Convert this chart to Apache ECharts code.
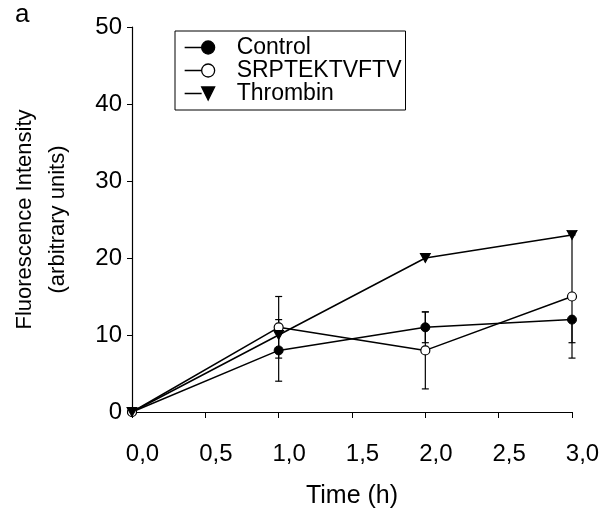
<!DOCTYPE html>
<html><head><meta charset="utf-8">
<script src="https://cdn.jsdelivr.net/npm/echarts@6/dist/echarts.min.js"></script>
<style>html,body{margin:0;padding:0;background:#fff}#c{width:603px;height:514px}</style>
</head><body><div id="c"></div>
<script>
var times = [0, 1, 2, 3];
var controlVals = [0, 8, 11, 12];
var controlLow  = [null, 4, 9, 7];
var controlHigh = [null, 12, 13, 12];
var srptVals = [0, 11, 8, 15];
var srptLow  = [null, 7, 3, 9];
var srptHigh = [null, 15, 13, 15];
var thrombinVals = [0, 10, 20, 23];
var thrombinLow  = [null, null, null, 15];
var thrombinHigh = [null, null, null, 23];
var xTicks = ['0,0','0,5','1,0','1,5','2,0','2,5','3,0'];
var yTicks = [0, 10, 20, 30, 40, 50];

function pairs(v){ return times.map(function(t,i){ return [t, v[i]]; }); }
function errData(lo,hi){ var out=[]; times.forEach(function(t,i){ if(lo[i]!=null) out.push([t, lo[i], hi[i]]); }); return out; }

var FONT = 'Liberation Sans, Arial, sans-serif';
function errSeries(lo,hi){
  return {
    type:'custom', silent:true, z:1,
    data: errData(lo,hi),
    encode:{x:0, y:[1,2]},
    renderItem:function(params, api){
      var x = api.value(0);
      var l = api.coord([x, api.value(1)]);
      var h = api.coord([x, api.value(2)]);
      var w = 3.5;
      var st = {stroke:'#000', lineWidth:1.2};
      return {type:'group', children:[
        {type:'line', shape:{x1:l[0], y1:l[1], x2:h[0], y2:h[1]}, style:st},
        {type:'line', shape:{x1:l[0]-w, y1:l[1], x2:l[0]+w, y2:l[1]}, style:st},
        {type:'line', shape:{x1:h[0]-w, y1:h[1], x2:h[0]+w, y2:h[1]}, style:st}
      ]};
    }
  };
}

var iconCircle = 'path://M0,6.5L17,6.5M17,6.5A6.5,6.5 0 1,1 30,6.5A6.5,6.5 0 1,1 17,6.5Z';
var iconTri = 'path://M0,6.5L17,6.5M17,0L30,0L23.5,13Z';

var chart = echarts.init(document.getElementById('c'), null, {renderer:'canvas'});
chart.setOption({
  animation:false,
  backgroundColor:'#fff',
  textStyle:{fontFamily:FONT},
  grid:{left:132, right:31, top:27, bottom:100},
  title:{text:'a', left:10, top:-3, textStyle:{fontFamily:FONT, fontSize:26, fontWeight:'normal', color:'#000'}},
  legend:{
    data:[
      {name:'Control', icon:iconCircle},
      {name:'SRPTEKTVFTV', icon:iconCircle},
      {name:'Thrombin', icon:iconTri}
    ],
    orient:'vertical', left:175, top:31,
    borderColor:'#000', borderWidth:1, borderRadius:0,
    padding:[5,4,5,9], itemGap:0, itemWidth:30, itemHeight:13,
    itemStyle:{borderColor:'#000', borderWidth:1.3},
    textStyle:{fontFamily:FONT, fontSize:23, lineHeight:23, color:'#000', padding:[0,0,0,17]}
  },
  xAxis:{
    type:'value', min:0, max:3, interval:0.5,
    name:'Time (h)', nameLocation:'middle', nameGap:72,
    nameTextStyle:{fontFamily:FONT, fontSize:25, color:'#000'},
    axisLine:{lineStyle:{color:'#000', width:1.2}},
    axisTick:{show:true, inside:false, length:6, lineStyle:{color:'#000'}},
    axisLabel:{fontFamily:FONT, fontSize:24, color:'#000', margin:30, padding:[0,0,0,21],
      formatter:function(v){ return xTicks[Math.round(v*2)]; }},
    splitLine:{show:false}
  },
  yAxis:{
    type:'value', min:0, max:50, interval:10,
    name:'Fluorescence Intensity\n(arbitrary units)', nameLocation:'middle', nameGap:58, nameRotate:90,
    nameTextStyle:{fontFamily:FONT, fontSize:22, color:'#000', lineHeight:33},
    axisLine:{show:true, lineStyle:{color:'#000', width:1.2}},
    axisTick:{show:true, inside:false, length:5, lineStyle:{color:'#000'}},
    axisLabel:{fontFamily:FONT, fontSize:24, color:'#000', margin:10,
      formatter:function(v){ return String(yTicks[Math.round(v/10)]); }},
    splitLine:{show:false}
  },
  series:[
    errSeries(controlLow, controlHigh),
    errSeries(srptLow, srptHigh),
    errSeries(thrombinLow, thrombinHigh),
    {name:'Control', type:'line', data:pairs(controlVals), z:3,
     symbol:'circle', symbolSize:9,
     lineStyle:{color:'#000', width:1.5},
     itemStyle:{color:'#000', borderColor:'#000', borderWidth:1}},
    {name:'SRPTEKTVFTV', type:'line', data:pairs(srptVals), z:3,
     symbol:'circle', symbolSize:9,
     lineStyle:{color:'#000', width:1.5},
     itemStyle:{color:'#fff', borderColor:'#000', borderWidth:1.2}},
    {name:'Thrombin', type:'line', data:pairs(thrombinVals), z:3,
     symbol:'triangle', symbolSize:[10,9], symbolRotate:180,
     lineStyle:{color:'#000', width:1.5},
     itemStyle:{color:'#000', borderColor:'#000', borderWidth:1}}
  ]
});
</script></body></html>
